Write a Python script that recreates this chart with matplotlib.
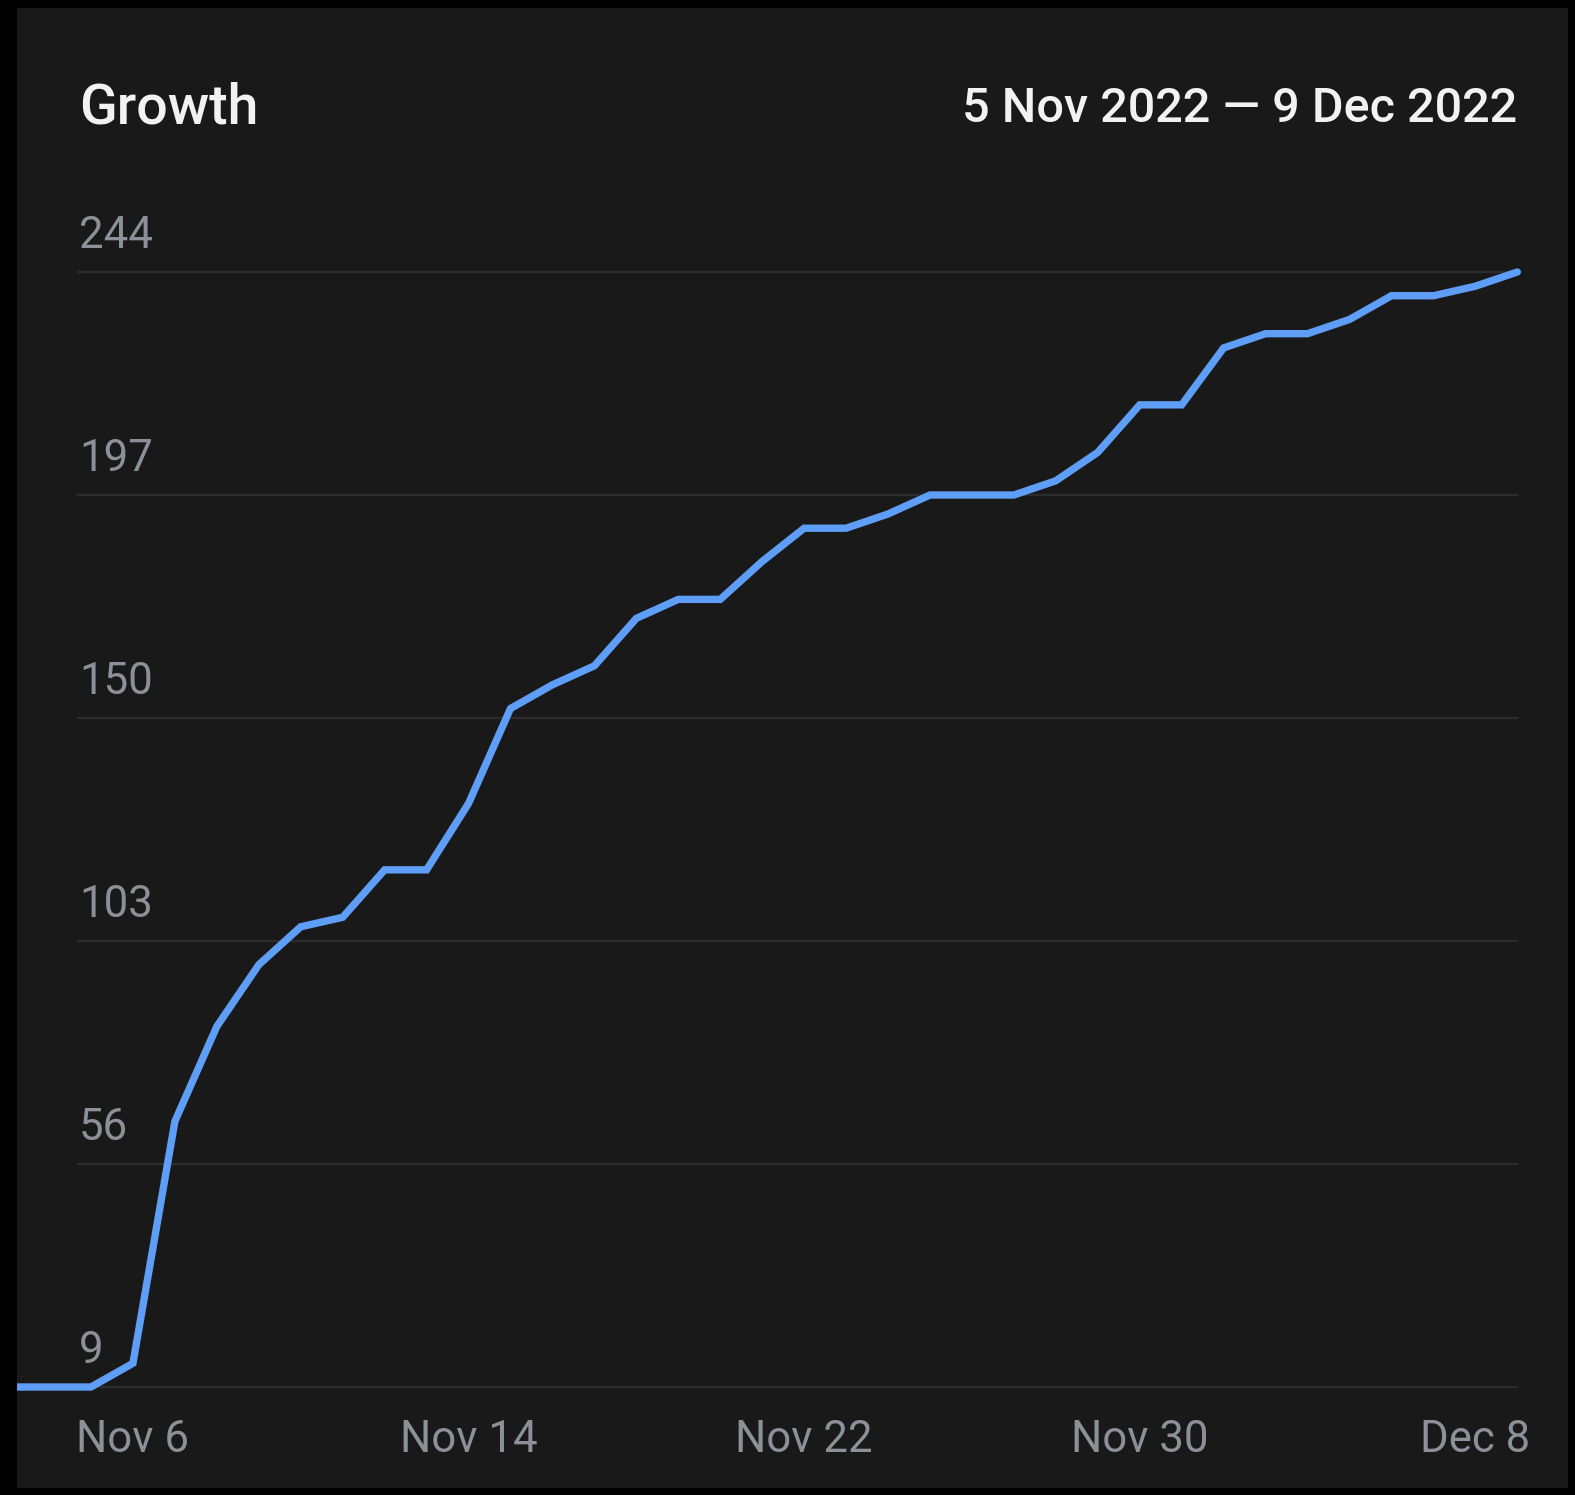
import matplotlib
matplotlib.use("Agg")
import matplotlib.pyplot as plt
import matplotlib.dates as mdates
from matplotlib.patches import Rectangle
import pandas as pd

# ---- data ----
dates = pd.date_range("2022-11-03", "2022-12-09", freq="D")
values = [9, 9,                                   # Nov 3-4 (edge of view)
          9, 14, 65, 85, 98, 106, 108, 118, 118,  # Nov 5-13
          132, 152, 157, 161, 171, 175, 175,      # Nov 14-20
          183, 190, 190, 193, 197, 197, 197,      # Nov 21-27
          200, 206, 216, 216, 228, 231, 231,      # Nov 28 - Dec 4
          234, 239, 239, 241, 244]                # Dec 5-9
ytick_values = [9, 56, 103, 150, 197, 244]
xtick_dates = ["2022-11-06", "2022-11-14", "2022-11-22", "2022-11-30", "2022-12-08"]
xtick_labels = ["Nov 6", "Nov 14", "Nov 22", "Nov 30", "Dec 8"]
title = "Growth"
date_range_text = "5 Nov 2022 \u2014 9 Dec 2022"

# ---- layout (pixels) ----
W, H = 1575, 1495
DPI = 100
fig = plt.figure(figsize=(W / DPI, H / DPI), dpi=DPI, facecolor="black")
fig.patches.append(Rectangle((17 / W, 1 - 1488 / H), (1568 - 17) / W, (1488 - 8) / H,
                             transform=fig.transFigure, facecolor="#191919",
                             edgecolor="none", zorder=-5))

ax_left, ax_right, ax_top, ax_bottom = 17, 1545, 250, 1400
ax = fig.add_axes([ax_left / W, 1 - ax_bottom / H, (ax_right - ax_left) / W,
                   (ax_bottom - ax_top) / H])
ax.set_facecolor("none")
ax.set_zorder(2)

# x scale: Nov 5 at px 91, 41.95 px/day
px_day = 41.95
x_nov5 = mdates.date2num(pd.Timestamp("2022-11-05"))
ax.set_xlim(x_nov5 - (91 - ax_left) / px_day, x_nov5 + (ax_right - 91) / px_day)
# y scale: 9 at px 1387, 244 at px 272
px_unit = (1387 - 272) / (244 - 9)
ax.set_ylim(9 - (ax_bottom - 1387) / px_unit, 244 + (272 - ax_top) / px_unit)

for s in ax.spines.values():
    s.set_visible(False)

grid_color = "#2c2c2c"
xmin_f = (78 - ax_left) / (ax_right - ax_left)
xmax_f = (1517 - ax_left) / (ax_right - ax_left)
tick_color = "#8b9099"
for v in ytick_values:
    ax.axhline(v, xmin=xmin_f, xmax=xmax_f, color=grid_color, lw=1.6, zorder=1)
    ax.annotate(str(v), xy=(xmin_f, v), xycoords=("axes fraction", "data"),
                xytext=(1, 24), textcoords="offset pixels", ha="left", va="baseline",
                color=tick_color, fontsize=31.5, family="Roboto", zorder=2)

ax.plot(mdates.date2num(dates), values, color="#5f9ef7", lw=5.3,
        solid_joinstyle="miter", solid_capstyle="round", zorder=3)

ax.set_yticks([])
ax.set_xticks(mdates.date2num(pd.to_datetime(xtick_dates)))
ax.set_xticklabels(xtick_labels, color=tick_color, fontsize=31.5, family="Roboto")
ax.tick_params(axis="x", length=0, pad=14)

fig.text(79 / W, 1 - 123 / H, title, ha="left", va="baseline", color="#f2f2f2",
         fontsize=40, fontweight="medium", family="Roboto")
fig.text(1517 / W, 1 - 122 / H, date_range_text, ha="right", va="baseline",
         color="#f2f2f2", fontsize=35, fontweight="medium", family="Roboto")

fig.savefig("out.png", dpi=DPI, facecolor="black")
